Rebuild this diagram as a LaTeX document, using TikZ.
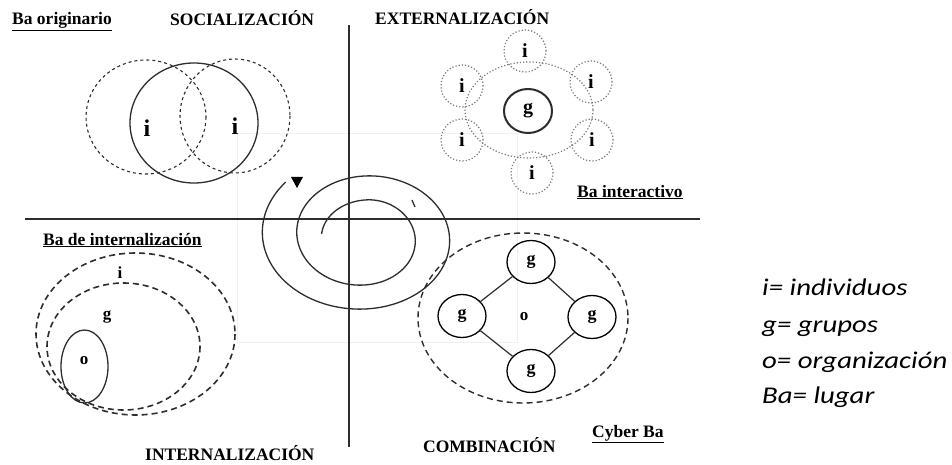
\documentclass[tikz,border=0pt]{standalone}
\usepackage{fontspec}
\setmainfont{Liberation Serif}
\newfontfamily\legendfont[FakeStretch=1.2]{Carlito}
\usepackage{tikz}
\usetikzlibrary{shapes,arrows,positioning,calc}
\definecolor{inkgray}{RGB}{45,45,45}
\definecolor{dotgray}{RGB}{120,120,120}

\tikzset{
  heading/.style={font=\bfseries\fontsize{17.5}{20}\selectfont, inner sep=0pt, anchor=base west},
  letter/.style={font=\bfseries\fontsize{#1}{#1}\selectfont, inner sep=0pt},
  legend/.style={font=\legendfont\itshape\fontsize{24}{28}\selectfont, inner sep=0pt, anchor=base west},
  venndash/.style={dash pattern=on 3pt off 3pt, line width=1.1pt, inkgray},
  ringdot/.style={dotted, line width=1.2pt, dotgray},
  idot/.style={circle, draw, ringdot, text=black, minimum size=42pt, inner sep=0pt, letter=20},
  bigdash/.style={dash pattern=on 6pt off 4pt, line width=1.6pt, inkgray},
  gring/.style={ellipse, draw, line width=1.3pt, minimum width=48pt, minimum height=43pt, inner sep=0pt, letter=18},
}

\begin{document}
\begin{tikzpicture}[x=1pt,y=-1pt]
\useasboundingbox (0,0) rectangle (952,465);
% faint frame of the scan
\draw[gray!12, line width=0.8pt] (237,133) rectangle (517,342);
% axes
\coordinate (vtop) at (349,25);
\coordinate (vbot) at (349,447);
\coordinate (hleft) at (25,219);
\coordinate (hright) at (700,219);
\draw[line width=1.6pt, inkgray] (vtop) -- (vbot);
\draw[line width=1.6pt, inkgray] (hleft) -- (hright);

% headings
\node[heading] (baorig) at (12,25) {\underline{Ba originario}};
\node[heading] (soc) at (170,26) {SOCIALIZACIÓN};
\node[heading] (ext) at (375,25) {EXTERNALIZACIÓN};
\node[heading] (baint) at (577,197) {\underline{Ba interactivo}};
\node[heading] (bainter) at (43,245) {\underline{Ba de internalización}};
\node[heading] (inter) at (145,460) {INTERNALIZACIÓN};
\node[heading] (comb) at (423,452) {COMBINACIÓN};
\node[heading] (cyber) at (592,437) {\underline{Cyber Ba}};

% socialization: two individuals
\draw[venndash] (146,117) ellipse (60 and 57);
\draw[venndash] (235,116) ellipse (55 and 57);
\draw[line width=1.3pt, inkgray] (194,123) ellipse (64 and 60);
\node[letter=24] (iA) at (147,128) {i};
\node[letter=24] (iB) at (235,126) {i};

% externalization: group among individuals
\draw[ringdot] (529,110) ellipse (64 and 48);
\draw[line width=2pt, inkgray] (528,111) ellipse (24 and 22);
\node[letter=20] (gext) at (528,111) {g};
\foreach \n/\x/\y in {iT/525/51, iUL/462/86, iUR/591/82, iLL/462/140, iLR/592/140, iBot/532/173}
  \node[idot] (\n) at (\x,\y) {i};

% spiral
\draw[line width=1.3pt, inkgray] plot[domain=185:942, samples=220, smooth, variable=\t]
  ({364.6+(50.4+0.0958*(\t-360))*cos(\t)-10*max(0,(270-\t)/90)},
   {236.5+(36.5+0.0667*(\t-270))*sin(\t)});
\fill[black] (291,177) -- (303,177) -- (297,188) -- cycle;
\draw[line width=1.3pt, inkgray] (412,200) -- (415,207);

% internalization: nested places
\draw[bigdash] (135.5,334) ellipse (99.5 and 81);
\draw[bigdash] (123.5,346.5) ellipse (76.5 and 63.5);
\draw[line width=1.3pt, inkgray] (84.5,366.5) ellipse (23.5 and 36.5);
\node[letter=17] (ibl) at (120,273) {i};
\node[letter=17] (gbl) at (107,317) {g};
\node[letter=17] (obl) at (84,361) {o};

% combination: groups in an organisation
\draw[bigdash, line width=1.4pt] (523,318) ellipse (105 and 85);
\node[gring] (gT) at (531,262) {g};
\node[gring] (gL) at (462,316) {g};
\node[gring] (gR) at (592,317) {g};
\node[gring] (gB) at (531,371) {g};
\node[letter=17] (oc) at (524,317) {o};
\draw[line width=1.2pt, inkgray] (gL) -- (gT) -- (gR) -- (gB) -- (gL);

% legend
\node[legend] (li) at (762,295) {i= individuos};
\node[legend] (lg) at (762,332) {g= grupos};
\node[legend] (lo) at (762,368) {o= organización};
\node[legend] (lb) at (762,403) {Ba= lugar};
\end{tikzpicture}
\end{document}
